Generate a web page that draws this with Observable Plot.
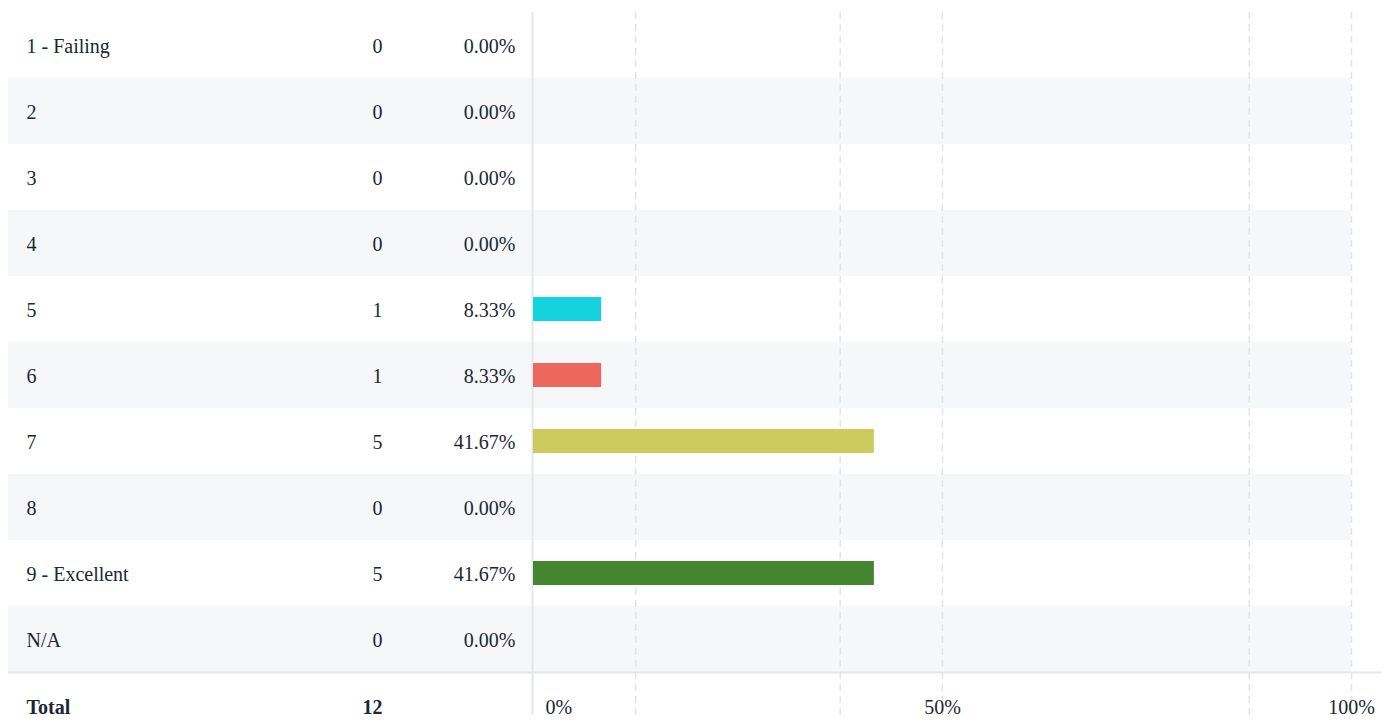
<!DOCTYPE html>
<html><head><meta charset="utf-8">
<script src="https://cdn.jsdelivr.net/npm/d3@7"></script>
<script src="https://cdn.jsdelivr.net/npm/@observablehq/plot@0.6"></script>
<style>html,body{margin:0;padding:0;background:#fff}</style>
</head><body><div id="chart"></div>
<script>
const categories = ["1 - Failing","2","3","4","5","6","7","8","9 - Excellent","N/A"];
const counts = [0,0,0,0,1,1,5,0,5,0];
const percents = [0,0,0,0,8.33,8.33,41.67,0,41.67,0];
const barColors = ["#14d3df","#14d3df","#14d3df","#14d3df","#14d3df","#ee675f","#cccc5e","#cccc5e","#44862e","#44862e"];
const totalLabel = "Total";
const totalCount = 12;
const axisTicks = [0, 50, 100];
const gridTicks = [12.5, 37.5, 50, 87.5, 100];

const rows = categories.map((c, i) => ({cat: c, count: counts[i], pct: percents[i], color: barColors[i], idx: i}));
const textColor = "#1b2733";
const font = "'Liberation Serif', Tinos, 'Times New Roman', Times, 'DejaVu Serif', serif";
const common = {fontSize: 20, fontFamily: font, fill: textColor};

const chart = Plot.plot({
  width: 1397,
  height: 723,
  marginTop: 12,
  marginBottom: 8,
  marginLeft: 8,
  marginRight: 16,
  style: {fontFamily: font, background: "#fff"},
  x: {domain: [0, 100], range: [533, 1351], axis: null},
  y: {type: "band", domain: categories, range: [12, 672], padding: 0, axis: null},
  color: {type: "identity"},
  marks: [
    Plot.cell(rows.filter(d => d.idx % 2 === 1), {y: "cat", fill: "#f6f7f9", insetRight: 30}),
    Plot.ruleX(gridTicks, {stroke: "#e4e4e4", strokeWidth: 1.5, strokeDasharray: "7,5"}),
    Plot.ruleX([0], {stroke: "#e3e7eb", strokeWidth: 2, dx: -1}),
    Plot.ruleY(["N/A"], {dy: 33, stroke: "#e3e6ea", strokeWidth: 2}),
    Plot.barX(rows.filter(d => d.pct > 0), {x: "pct", y: "cat", fill: "color", insetTop: 21, insetBottom: 21}),
    Plot.text(rows, {...common, y: "cat", text: "cat", frameAnchor: "left", dx: 18, dy: 1, textAnchor: "start"}),
    Plot.text(rows, {...common, y: "cat", text: d => String(d.count), frameAnchor: "left", dx: 374, dy: 1, textAnchor: "end"}),
    Plot.text(rows, {...common, y: "cat", text: d => d.pct.toFixed(2) + "%", frameAnchor: "left", dx: 507, dy: 1, textAnchor: "end"}),
    Plot.text([totalLabel], {...common, text: d => d, frameAnchor: "bottom-left", lineAnchor: "middle", dx: 18, dy: -8, textAnchor: "start", fontWeight: "bold"}),
    Plot.text([totalCount], {...common, text: d => String(d), frameAnchor: "bottom-left", lineAnchor: "middle", dx: 374, dy: -8, textAnchor: "end", fontWeight: "bold"}),
    Plot.text(axisTicks.filter(t => t === 0), {...common, x: d => d, text: d => d + "%", frameAnchor: "bottom", lineAnchor: "middle", dy: -8, dx: 12, textAnchor: "start"}),
    Plot.text(axisTicks.filter(t => t !== 0), {...common, x: d => d, text: d => d + "%", frameAnchor: "bottom", lineAnchor: "middle", dy: -8, textAnchor: "middle"})
  ]
});
document.getElementById("chart").appendChild(chart);
</script>
</body></html>
